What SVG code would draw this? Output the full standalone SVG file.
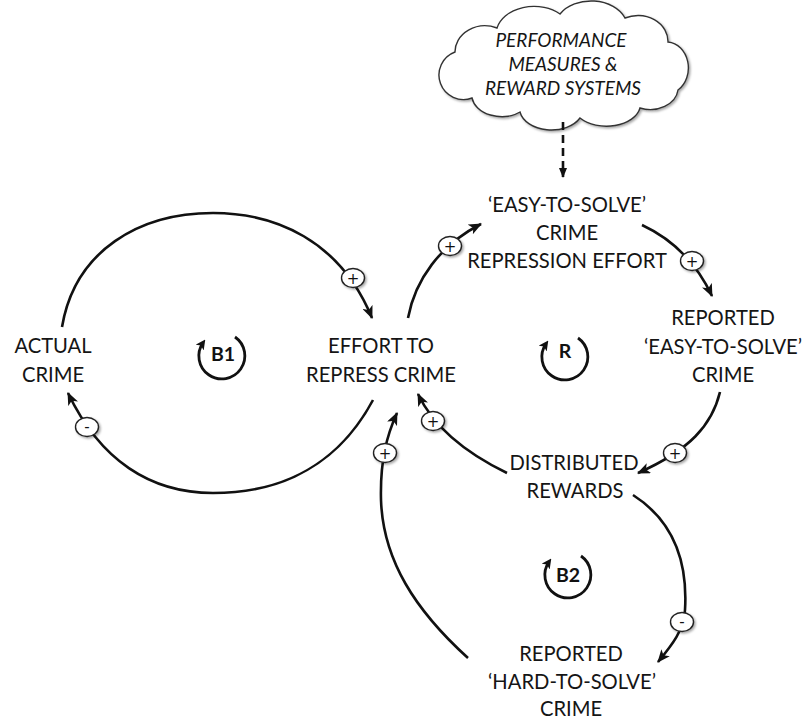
<svg xmlns="http://www.w3.org/2000/svg" width="803" height="720" viewBox="0 0 803 720">
  <defs>
    <style>
      .lbl { font-family: Lato, "Open Sans", "Liberation Sans", sans-serif; font-size: 20.2px; fill: #151515; text-anchor: middle; }
      .cloudtxt { font-family: Lato, "Open Sans", "Liberation Sans", sans-serif; font-size: 19px; font-style: italic; fill: #151515; text-anchor: middle; }
      .link { fill: none; stroke: #111; stroke-width: 2.6; marker-end: url(#head); }
      .loop { fill: none; stroke: #111; stroke-width: 2.8; marker-end: url(#loophead); }
      .looptxt { font-family: Lato, "Open Sans", "Liberation Sans", sans-serif; font-size: 19.5px; font-weight: bold; fill: #111; text-anchor: middle; }
      .pol ellipse { fill: #fff; stroke: #222; stroke-width: 1.4; filter: url(#shadow); }
      .pol text { font-family: "DejaVu Sans", sans-serif; font-size: 15px; fill: #111; text-anchor: middle; }
    </style>
    <marker id="head" viewBox="0 0 12 10" refX="11" refY="5" markerWidth="13" markerHeight="11" markerUnits="userSpaceOnUse" orient="auto">
      <path d="M0,0 L12,5 L0,10 L3,5 z" fill="#111"/>
    </marker>
    <marker id="loophead" viewBox="0 0 10 10" refX="6" refY="5" markerWidth="10" markerHeight="10" markerUnits="userSpaceOnUse" orient="auto">
      <path d="M0,0 L10,5 L0,10 L2.5,5 z" fill="#111"/>
    </marker>
    <marker id="dashhead" viewBox="0 0 10 8" refX="9" refY="4" markerWidth="10" markerHeight="9" markerUnits="userSpaceOnUse" orient="auto">
      <path d="M0,0 L10,4 L0,8 z" fill="#111"/>
    </marker>
    <filter id="shadow" x="-30%" y="-30%" width="160%" height="160%">
      <feDropShadow dx="1.5" dy="1.5" stdDeviation="1.2" flood-color="#000" flood-opacity="0.35"/>
    </filter>
  </defs>

  <rect width="803" height="720" fill="#fff"/>

  <!-- exogenous driver -->
  <g id="performance-measures">
    <path d="M455,52 A30,26 0 0 1 497,28 A38,28 0 0 1 560,14 A36,26 0 0 1 625,18 A30,26 0 0 1 668,42 A22,26 0 0 1 678,90 A28,22 0 0 1 640,108 A34,22 0 0 1 580,118 A32,22 0 0 1 520,112 A30,22 0 0 1 472,98 A22,22 0 0 1 455,52 z" fill="#fff" stroke="#333" stroke-width="1.4" filter="url(#shadow)"/>
    <text class="cloudtxt" x="561" y="47">PERFORMANCE</text>
    <text class="cloudtxt" x="563" y="71">MEASURES &amp;</text>
    <text class="cloudtxt" x="563" y="95">REWARD SYSTEMS</text>
  </g>

  <!-- variables -->
  <g id="actual-crime">
    <text class="lbl" x="53" y="353">ACTUAL</text>
    <text class="lbl" x="53" y="382">CRIME</text>
  </g>
  <g id="effort-to-repress">
    <text class="lbl" x="381" y="353">EFFORT TO</text>
    <text class="lbl" x="381" y="382">REPRESS CRIME</text>
  </g>
  <g id="easy-repression-effort">
    <text class="lbl" x="567" y="212">‘EASY-TO-SOLVE’</text>
    <text class="lbl" x="567" y="240">CRIME</text>
    <text class="lbl" x="567" y="268">REPRESSION EFFORT</text>
  </g>
  <g id="reported-easy">
    <text class="lbl" x="723" y="325">REPORTED</text>
    <text class="lbl" x="723" y="354">‘EASY-TO-SOLVE’</text>
    <text class="lbl" x="723" y="382">CRIME</text>
  </g>
  <g id="distributed-rewards">
    <text class="lbl" x="574" y="470">DISTRIBUTED</text>
    <text class="lbl" x="575" y="498">REWARDS</text>
  </g>
  <g id="reported-hard">
    <text class="lbl" x="571" y="661">REPORTED</text>
    <text class="lbl" x="572" y="689">‘HARD-TO-SOLVE’</text>
    <text class="lbl" x="571" y="716">CRIME</text>
  </g>

  <!-- loop identifiers -->
  <g id="loop-b1">
    <path class="loop" d="M235,337 A23,23 0 1 1 203,342.7"/>
    <text class="looptxt" x="223" y="361">B1</text>
  </g>
  <g id="loop-r">
    <path class="loop" d="M578,338 A23,23 0 1 1 546,343.7"/>
    <text class="looptxt" x="565" y="358">R</text>
  </g>
  <g id="loop-b2">
    <path class="loop" d="M581,556 A23,23 0 1 1 549,561.7"/>
    <text class="looptxt" x="568" y="582">B2</text>
  </g>

  <!-- causal links -->
  <g id="connectors">
    <path class="link" d="M62,327 C75,250 140,213 213,213 C275,213 340,240 372,318"/>
    <path class="link" d="M373,400 C330,480 260,493 213,493 C150,493 100,460 68,393"/>
    <path class="link" d="M468,658 C415,610 383,560 381,500 C380,460 387,435 397,413"/>
    <path class="link" d="M408,318 C415,280 440,245 481,224"/>
    <path class="link" d="M642,225 C670,238 695,260 712,296"/>
    <path class="link" d="M720,392 C712,425 690,450 638,473"/>
    <path class="link" d="M507,473 C470,455 435,430 418,394"/>
    <path class="link" d="M633,495 C672,520 688,560 685,610 C684,630 672,645 658,662"/>
    <path d="M563,122 L563,177" fill="none" stroke="#111" stroke-width="2.6" stroke-dasharray="8,5" marker-end="url(#dashhead)"/>

    <!-- polarity markers -->
    <g class="pol"><ellipse cx="353" cy="278" rx="11.5" ry="9.5"/><text x="353" y="283.5">+</text></g>
    <g class="pol"><ellipse cx="87" cy="427" rx="11.5" ry="9.5"/><text x="87" y="432">-</text></g>
    <g class="pol"><ellipse cx="385" cy="453" rx="11.5" ry="9.5"/><text x="385" y="458.5">+</text></g>
    <g class="pol"><ellipse cx="450" cy="246" rx="11.5" ry="9.5"/><text x="450" y="251.5">+</text></g>
    <g class="pol"><ellipse cx="692" cy="261" rx="11.5" ry="9.5"/><text x="692" y="266.5">+</text></g>
    <g class="pol"><ellipse cx="675" cy="453" rx="11.5" ry="9.5"/><text x="675" y="458.5">+</text></g>
    <g class="pol"><ellipse cx="433" cy="421" rx="11.5" ry="9.5"/><text x="433" y="426.5">+</text></g>
    <g class="pol"><ellipse cx="682" cy="622" rx="11.5" ry="9.5"/><text x="682" y="627">-</text></g>
  </g>
</svg>
